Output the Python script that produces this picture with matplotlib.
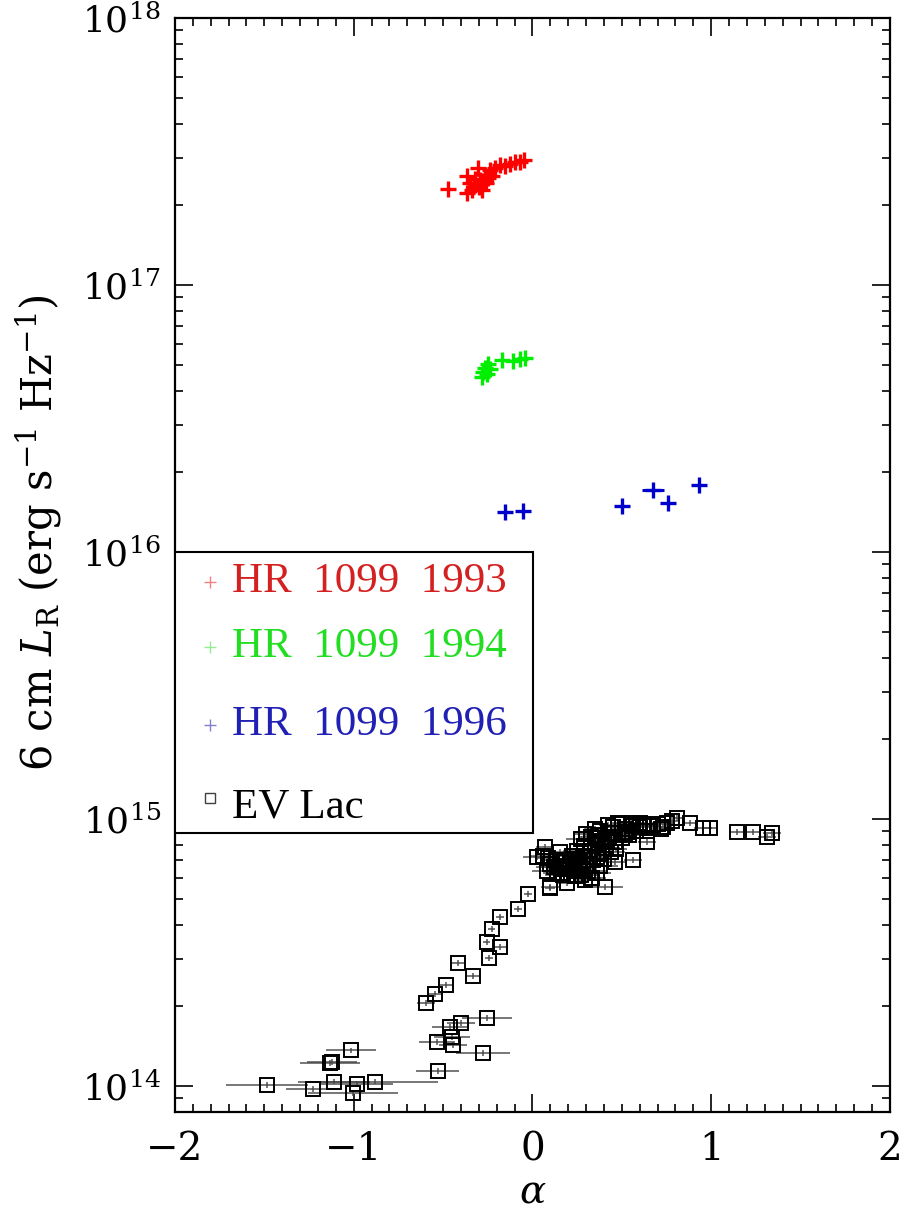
import matplotlib

matplotlib.use("Agg")
import matplotlib.pyplot as plt
from matplotlib.patches import Rectangle
from matplotlib.ticker import FixedLocator, LogLocator, NullFormatter

plt.rcParams["font.family"] = ["DejaVu Serif"]
plt.rcParams["mathtext.fontset"] = "custom"
plt.rcParams["mathtext.rm"] = "DejaVu Serif"
plt.rcParams["mathtext.it"] = "DejaVu Serif:italic"

# ---------------------------------------------------------------- data
hr93_alpha = [-0.473, -0.366, -0.366, -0.350, -0.338, -0.322, -0.305, -0.294,
              -0.283, -0.266, -0.260, -0.238, -0.227, -0.210, -0.182, -0.154,
              -0.126, -0.098, -0.070, -0.048, -0.249, -0.300, -0.275, -0.320]
hr93_lum = [2.29e17, 2.21e17, 2.56e17, 2.41e17, 2.27e17, 2.37e17, 2.74e17, 2.47e17,
            2.27e17, 2.58e17, 2.41e17, 2.70e17, 2.56e17, 2.74e17, 2.81e17, 2.79e17,
            2.84e17, 2.89e17, 2.89e17, 2.94e17, 2.52e17, 2.33e17, 2.45e17, 2.50e17]

hr94_alpha = [-0.282, -0.277, -0.266, -0.249, -0.238, -0.254, -0.171, -0.109, -0.070, -0.042]
hr94_lum = [4.52e16, 4.72e16, 4.89e16, 5.06e16, 4.84e16, 4.64e16, 5.24e16, 5.19e16, 5.28e16, 5.33e16]

hr96_alpha = [-0.154, -0.053, 0.501, 0.674, 0.758, 0.931]
hr96_lum = [1.41e16, 1.43e16, 1.49e16, 1.71e16, 1.53e16, 1.78e16]
hr96_xerr = [0.0, 0.0, 0.0, 0.06, 0.0, 0.0]

ev_alpha = [
    -1.485, -1.228, -1.133, -1.122, -1.110, -1.015, -1.004, -0.982, -0.881,
    -0.596, -0.546, -0.484, -0.417, -0.333, -0.255, -0.227, -0.182, -0.182,
    -0.243, -0.081, -0.025, 0.098, -0.534, -0.461, -0.450, -0.445, -0.400,
    -0.255, -0.277, -0.529,
    0.025, 0.070, 0.087, 0.154, 0.098, 0.193, 0.294, 0.333, 0.406, 0.462,
    0.562, 0.641, 0.478, 0.601, 0.674, 0.808, 0.881, 0.954, 0.993, 1.144,
    1.234, 1.312, 1.340, 0.366, 0.417, 0.266, 0.227, 0.165, 0.361, 0.529,
    0.730,
    0.12, 0.14, 0.16, 0.18, 0.20, 0.21, 0.23, 0.24, 0.26, 0.27, 0.28, 0.30,
    0.31, 0.32, 0.34, 0.35, 0.37, 0.38, 0.39, 0.41, 0.43, 0.44, 0.46, 0.48,
    0.50, 0.52, 0.54, 0.56, 0.58, 0.60, 0.62, 0.64, 0.66, 0.70, 0.72, 0.75,
    0.78, 0.25, 0.29, 0.22, 0.19, 0.17, 0.13, 0.10, 0.08, 0.06, 0.33, 0.36,
    0.40, 0.47,
    0.30, 0.35, 0.42, 0.45, 0.38, 0.50, 0.55, 0.27, 0.33, 0.44, 0.52, 0.58,
    0.15, 0.21, 0.26, 0.31, 0.36, 0.24, 0.19, 0.28,
]
ev_lum = [
    1.01e14, 0.975e14, 1.22e14, 1.23e14, 1.04e14, 1.36e14, 0.94e14, 1.02e14, 1.04e14,
    2.05e14, 2.21e14, 2.39e14, 2.89e14, 2.58e14, 3.46e14, 3.87e14, 4.30e14, 3.32e14,
    3.02e14, 4.60e14, 5.24e14, 5.52e14, 1.46e14, 1.66e14, 1.53e14, 1.43e14, 1.72e14,
    1.80e14, 1.33e14, 1.14e14,
    7.21e14, 7.86e14, 7.15e14, 7.52e14, 5.56e14, 5.75e14, 5.91e14, 6.01e14, 5.56e14, 6.91e14,
    7.02e14, 8.20e14, 9.66e14, 9.66e14, 9.50e14, 1.01e15, 9.66e14, 9.25e14, 9.25e14, 8.94e14,
    8.94e14, 8.57e14, 8.87e14, 8.72e14, 8.34e14, 7.02e14, 6.61e14, 6.28e14, 7.21e14, 8.94e14,
    9.34e14,
    6.6e14, 6.3e14, 6.9e14, 6.5e14, 6.2e14, 6.8e14, 6.4e14, 7.1e14, 6.6e14, 6.2e14, 7.3e14, 6.8e14,
    6.4e14, 7.6e14, 7.0e14, 8.0e14, 7.4e14, 6.7e14, 8.3e14, 7.8e14, 8.6e14, 7.5e14, 8.2e14, 8.9e14,
    8.5e14, 9.2e14, 8.7e14, 9.4e14, 9.0e14, 9.3e14, 9.6e14, 9.0e14, 9.4e14, 9.6e14, 9.2e14, 9.7e14,
    9.8e14, 7.6e14, 7.9e14, 7.3e14, 7.0e14, 6.2e14, 7.0e14, 6.8e14, 6.4e14, 7.3e14, 6.0e14, 6.3e14,
    7.1e14, 7.7e14,
    8.8e14, 9.2e14, 9.5e14, 9.3e14, 9.0e14, 9.6e14, 9.7e14, 8.4e14, 8.6e14, 8.9e14, 8.8e14, 9.5e14,
    6.6e14, 6.5e14, 6.9e14, 7.2e14, 8.5e14, 6.1e14, 6.7e14, 6.5e14,
]
ev_xerr = [
    0.23, 0.15, 0.17, 0.14, 0.20, 0.14, 0.25, 0.20, 0.35,
    0.05, 0.04, 0.04, 0.04, 0.04, 0.02, 0.02, 0.02, 0.04,
    0.02, 0.02, 0.02, 0.03, 0.10, 0.10, 0.10, 0.08, 0.08,
    0.14, 0.15, 0.12,
    0.08, 0.05, 0.06, 0.05, 0.05, 0.06, 0.06, 0.05, 0.10, 0.06,
    0.05, 0.05, 0.04, 0.04, 0.04, 0.04, 0.04, 0.05, 0.04, 0.04,
    0.04, 0.05, 0.05, 0.06, 0.06, 0.08, 0.08, 0.08, 0.08, 0.06,
    0.05,
    0.10, 0.08, 0.08, 0.10, 0.08, 0.08, 0.10, 0.08, 0.08, 0.10, 0.08, 0.08,
    0.10, 0.08, 0.08, 0.06, 0.08, 0.10, 0.06, 0.08, 0.06, 0.08, 0.06, 0.05,
    0.06, 0.05, 0.06, 0.05, 0.05, 0.05, 0.05, 0.05, 0.05, 0.05, 0.05, 0.05,
    0.04, 0.08, 0.06, 0.08, 0.08, 0.10, 0.08, 0.10, 0.08, 0.08, 0.08, 0.08,
    0.08, 0.06,
    0.06, 0.06, 0.05, 0.05, 0.06, 0.05, 0.05, 0.08, 0.06, 0.05, 0.05, 0.05,
    0.10, 0.10, 0.08, 0.08, 0.06, 0.10, 0.10, 0.08,
]

x_ticks = [-2, -1, 0, 1, 2]
x_tick_labels = ["\u22122", "\u22121", "0", "1", "2"]
y_ticks = [1e14, 1e15, 1e16, 1e17, 1e18]
y_tick_labels = [r"$10^{14}$", r"$10^{15}$", r"$10^{16}$", r"$10^{17}$", r"$10^{18}$"]

legend_entries = [
    ("HR  1099  1993", "#d42020", "#f08080", "+"),
    ("HR  1099  1994", "#22dd22", "#90ee90", "+"),
    ("HR  1099  1996", "#2020b4", "#8080d0", "+"),
    ("EV Lac", "black", "#404040", "s"),
]

# ---------------------------------------------------------------- figure
fig = plt.figure(figsize=(9.16, 12.17), dpi=100)
ax = fig.add_axes([0.191, 0.0863, 0.7806, 0.8989])
ax.set_yscale("log")
ax.set_xlim(-2, 2)
ax.set_ylim(8.0e13, 1e18)

# EV Lac: error bars + open squares
ax.errorbar(ev_alpha, ev_lum, xerr=ev_xerr, yerr=[v * 0.025 for v in ev_lum],
            fmt="none", ecolor="#444444", elinewidth=1.2, alpha=0.85, zorder=2)
ax.plot(ev_alpha, ev_lum, ls="none", marker="s", ms=10, mfc="none",
        mec="black", mew=1.4, zorder=3)

# HR 1099 epochs
ax.plot(hr93_alpha, hr93_lum, ls="none", marker="+", ms=11, mew=2.4, color="#ff0000", zorder=4)
ax.plot(hr94_alpha, hr94_lum, ls="none", marker="+", ms=11, mew=2.4, color="#00ee00", zorder=4)
ax.errorbar(hr96_alpha, hr96_lum, xerr=hr96_xerr, fmt="none", ecolor="#0000cc",
            elinewidth=2.2, zorder=4)
ax.plot(hr96_alpha, hr96_lum, ls="none", marker="+", ms=12, mew=2.4, color="#0000cc", zorder=4)

# axes styling
for sp in ax.spines.values():
    sp.set_linewidth(1.6)
ax.xaxis.set_major_locator(FixedLocator(x_ticks))
ax.set_xticklabels(x_tick_labels)
ax.xaxis.set_minor_locator(FixedLocator([i / 10 for i in range(-20, 21)]))
ax.set_yticks(y_ticks)
ax.set_yticklabels(y_tick_labels)
ax.yaxis.set_minor_locator(LogLocator(base=10, subs=range(2, 10), numticks=20))
ax.yaxis.set_minor_formatter(NullFormatter())
ax.tick_params(which="both", direction="in", top=True, right=True, width=1.2)
ax.tick_params(which="major", length=13)
ax.tick_params(which="minor", length=6)
ax.tick_params(axis="x", which="major", labelsize=28, pad=14)
ax.tick_params(axis="y", which="major", labelsize=26, pad=10)

ax.set_xlabel(r"$\alpha$", fontsize=28, labelpad=4)
ax.set_ylabel(r"6 cm $L_{\rm R}$ (erg s$^{-1}$ Hz$^{-1}$)", fontsize=30)
ax.yaxis.set_label_coords(-0.155, 0.53)

# legend box drawn by hand
ax.add_patch(Rectangle((0, 0.255), 0.5007, 0.2569, transform=ax.transAxes,
                       facecolor="white", edgecolor="black", lw=1.5, zorder=6))
legend_y = [0.4845, 0.425, 0.3537, 0.2788]
for (label, tcol, mcol, mk), yy in zip(legend_entries, legend_y):
    if mk == "s":
        ax.plot([0.049], [yy + 0.008], transform=ax.transAxes, marker="s", ms=7,
                mfc="none", mec=mcol, mew=1.0, zorder=7)
    else:
        ax.plot([0.049], [yy], transform=ax.transAxes, marker="+", ms=8,
                mew=1.0, color=mcol, zorder=7)
    ax.text(0.0797, yy, label, transform=ax.transAxes, fontsize=31,
            family="Liberation Serif", color=tcol, va="center", ha="left", zorder=7)

fig.savefig("out.png", dpi=100)
